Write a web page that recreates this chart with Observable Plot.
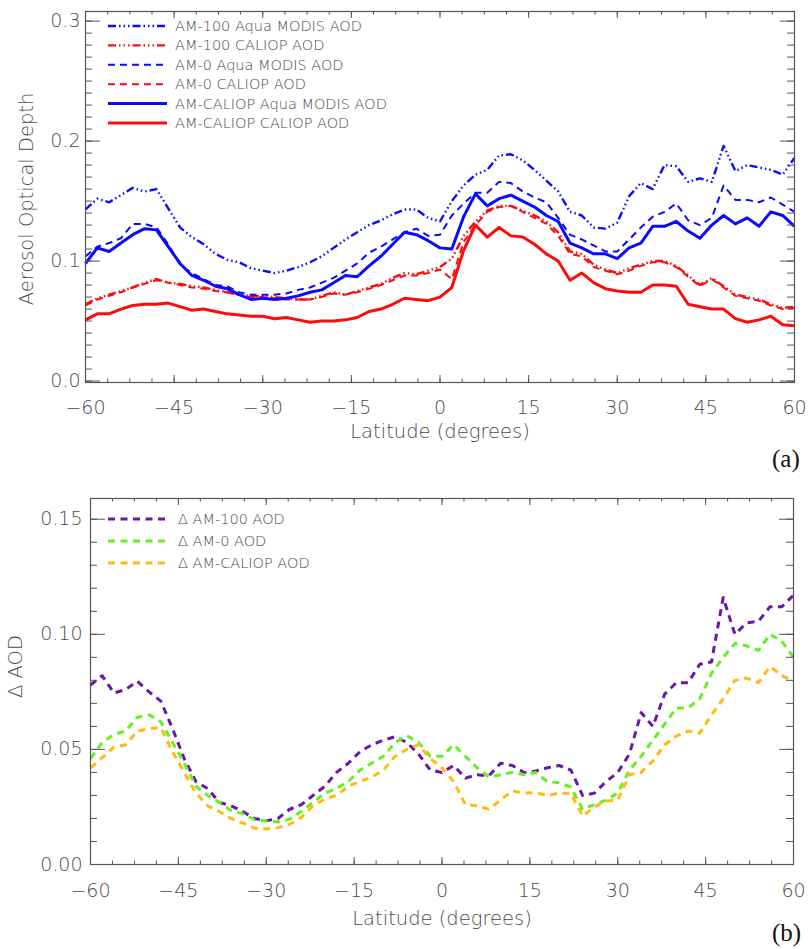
<!DOCTYPE html>
<html><head><meta charset="utf-8">
<script src="https://cdn.jsdelivr.net/npm/d3@7"></script>
<script src="https://cdn.jsdelivr.net/npm/@observablehq/plot@0.6"></script>
<style>
body{margin:0;background:#fff}
#wrap{position:relative;width:810px;height:949px;overflow:hidden;background:#fff}
</style></head>
<body><div id="wrap"></div>
<script>
// ---------- DATA ----------
const lat = [-60,-58,-56,-54,-52,-50,-48,-46,-44,-42,-40,-38,-36,-34,-32,-30,-28,-26,-24,-22,-20,-18,-16,-14,-12,-10,-8,-6,-4,-2,0,2,4,6,8,10,12,14,16,18,20,22,24,26,28,30,32,34,36,38,40,42,44,46,48,50,52,54,56,58,60];

// panel (a)
const am100Modis = [0.143,0.152,0.149,0.155,0.161,0.158,0.160,0.144,0.128,0.120,
0.114,0.106,0.101,0.099,0.094,0.092,0.090,0.092,0.095,0.099,
0.104,0.111,0.118,0.124,0.130,0.134,0.139,0.143,0.143,0.136,
0.133,0.150,0.163,0.172,0.176,0.188,0.189,0.184,0.176,0.167,
0.158,0.141,0.138,0.128,0.127,0.132,0.154,0.165,0.160,0.180,
0.179,0.166,0.169,0.166,0.196,0.175,0.180,0.178,0.176,0.172,
0.186];
const am100Caliop = [0.064,0.069,0.072,0.075,0.078,0.082,0.085,0.082,0.081,0.079,
0.078,0.076,0.074,0.072,0.071,0.071,0.070,0.069,0.068,0.068,
0.071,0.074,0.072,0.075,0.078,0.081,0.086,0.090,0.089,0.092,
0.095,0.102,0.121,0.133,0.142,0.146,0.146,0.142,0.138,0.133,
0.124,0.108,0.106,0.097,0.093,0.090,0.094,0.097,0.100,0.100,
0.096,0.088,0.080,0.086,0.079,0.072,0.070,0.068,0.064,0.061,
0.062];
const am0Modis = [0.104,0.112,0.115,0.119,0.131,0.131,0.128,0.114,0.097,0.090,
0.085,0.080,0.079,0.074,0.072,0.072,0.072,0.073,0.076,0.078,
0.082,0.086,0.092,0.098,0.107,0.112,0.118,0.124,0.127,0.121,
0.122,0.138,0.148,0.157,0.157,0.166,0.165,0.158,0.153,0.149,
0.136,0.122,0.118,0.113,0.108,0.108,0.118,0.128,0.137,0.141,
0.148,0.134,0.130,0.136,0.163,0.151,0.151,0.149,0.153,0.147,
0.141];
const am0Caliop = [0.063,0.068,0.071,0.074,0.078,0.081,0.084,0.082,0.080,0.078,
0.077,0.075,0.074,0.072,0.070,0.070,0.069,0.068,0.068,0.068,
0.070,0.073,0.072,0.074,0.077,0.080,0.084,0.088,0.088,0.090,
0.093,0.085,0.116,0.130,0.141,0.145,0.146,0.141,0.136,0.131,
0.121,0.106,0.104,0.095,0.092,0.089,0.092,0.096,0.099,0.099,
0.095,0.087,0.079,0.085,0.078,0.071,0.069,0.067,0.063,0.060,
0.061];
const amCalModis = [0.098,0.111,0.108,0.115,0.122,0.127,0.126,0.112,0.098,0.088,
0.084,0.079,0.077,0.072,0.068,0.069,0.068,0.069,0.071,0.074,
0.076,0.082,0.088,0.087,0.096,0.104,0.114,0.124,0.122,0.117,
0.111,0.110,0.137,0.156,0.146,0.152,0.155,0.150,0.145,0.138,
0.133,0.115,0.111,0.106,0.106,0.102,0.111,0.115,0.129,0.129,
0.133,0.125,0.119,0.130,0.138,0.131,0.136,0.129,0.141,0.138,
0.129];
const amCalCaliop = [0.051,0.056,0.056,0.060,0.063,0.064,0.064,0.065,0.062,0.059,
0.060,0.058,0.056,0.055,0.054,0.054,0.052,0.053,0.051,0.049,
0.050,0.050,0.051,0.053,0.058,0.060,0.064,0.069,0.068,0.067,
0.070,0.078,0.109,0.130,0.120,0.128,0.121,0.120,0.114,0.106,
0.100,0.084,0.090,0.082,0.077,0.075,0.074,0.074,0.080,0.080,
0.079,0.064,0.062,0.060,0.060,0.052,0.049,0.051,0.054,0.047,
0.046];

// panel (b)
const dAm100 = [0.078,0.082,0.0745,0.076,0.0796,0.075,0.071,0.059,0.046,0.036,
0.033,0.027,0.0255,0.023,0.020,0.019,0.020,0.024,0.026,0.030,
0.034,0.040,0.044,0.049,0.052,0.054,0.0555,0.053,0.048,0.041,
0.040,0.043,0.0375,0.039,0.0385,0.044,0.043,0.040,0.0406,0.042,
0.043,0.041,0.030,0.031,0.036,0.040,0.048,0.066,0.060,0.074,
0.079,0.079,0.087,0.088,0.116,0.100,0.105,0.1056,0.112,0.112,
0.117];
const dAm0 = [0.046,0.053,0.0565,0.058,0.064,0.065,0.062,0.053,0.044,0.034,
0.030,0.027,0.0235,0.022,0.0195,0.019,0.0185,0.0197,0.023,0.027,
0.031,0.033,0.036,0.041,0.044,0.047,0.053,0.056,0.053,0.047,
0.047,0.052,0.047,0.042,0.038,0.039,0.040,0.039,0.040,0.036,
0.0355,0.0336,0.024,0.026,0.028,0.031,0.041,0.047,0.054,0.061,
0.068,0.068,0.072,0.083,0.090,0.096,0.095,0.093,0.100,0.097,
0.090];
const dAmCal = [0.042,0.0464,0.051,0.052,0.058,0.059,0.0595,0.049,0.040,0.031,
0.0255,0.023,0.020,0.018,0.0158,0.0154,0.016,0.0175,0.0205,0.0255,
0.0285,0.030,0.034,0.036,0.038,0.041,0.047,0.050,0.052,0.046,
0.042,0.036,0.026,0.0255,0.024,0.028,0.032,0.031,0.0312,0.030,
0.031,0.031,0.021,0.025,0.0276,0.028,0.039,0.040,0.045,0.052,
0.0558,0.058,0.057,0.065,0.072,0.080,0.081,0.079,0.086,0.082,
0.080];

// ticks
const xMajor = [-60,-45,-30,-15,0,15,30,45,60];
const xMinor = d3.range(-60, 60.001, 3.75);
const yMajorA = [0, 0.1, 0.2, 0.3];
const yMinorA = d3.range(0, 0.3001, 0.01);
const yMajorB = [0, 0.05, 0.10, 0.15];
const yMinorB = d3.range(0, 0.1501, 0.01);

const namesA = ["AM-100 Aqua MODIS AOD","AM-100 CALIOP AOD","AM-0 Aqua MODIS AOD","AM-0 CALIOP AOD","AM-CALIOP Aqua MODIS AOD","AM-CALIOP CALIOP AOD"];
const namesB = ["\u0394 AM-100 AOD","\u0394 AM-0 AOD","\u0394 AM-CALIOP AOD"];

// ---------- STYLES ----------
const BLUE = "#0a0aff", RED = "#ff0a0a";
const DDD = "8,3,1.5,3,1.5,3,1.5,3";
const seriesA = [
  {name: namesA[0], values: am100Modis, color: BLUE, w: 2.4, dash: DDD},
  {name: namesA[1], values: am100Caliop, color: RED, w: 2.4, dash: DDD},
  {name: namesA[2], values: am0Modis, color: BLUE, w: 2, dash: "7,5"},
  {name: namesA[3], values: am0Caliop, color: RED, w: 2, dash: "7,5"},
  {name: namesA[4], values: amCalModis, color: BLUE, w: 3, dash: null},
  {name: namesA[5], values: amCalCaliop, color: RED, w: 3, dash: null}
];
const seriesB = [
  {name: namesB[0], values: dAm100, color: "#6a17a8", w: 3, dash: "7,5.5"},
  {name: namesB[1], values: dAm0, color: "#66f022", w: 3, dash: "7,5.5"},
  {name: namesB[2], values: dAmCal, color: "#ffbb11", w: 3, dash: "7,5.5"}
];

const wrap = document.getElementById("wrap");
const AXC = "#555";
const FONT = "DejaVu Sans, Verdana, sans-serif";
const minusFmt = d => (d < 0 ? "\u2212" + Math.abs(d) : String(d));

function panel(o) {
  const innerH = o.height - o.mt - o.mb;
  const innerW = 810 - o.ml - o.mr;
  const marks = [];
  for (const s of o.series) {
    marks.push(Plot.line(lat.map((x, i) => ({lat: x, v: s.values[i]})), {
      x: "lat", y: "v", stroke: s.color, strokeWidth: s.w,
      strokeDasharray: s.dash, strokeLinejoin: "round", strokeLinecap: "butt"
    }));
  }
  // ticks (inward) on all four sides
  marks.push(Plot.tickX(xMinor, {x: d => d, insetTop: innerH - 3.5, stroke: AXC}));
  marks.push(Plot.tickX(xMinor, {x: d => d, insetBottom: innerH - 3.5, stroke: AXC}));
  marks.push(Plot.tickX(xMajor, {x: d => d, insetTop: innerH - 7, stroke: AXC}));
  marks.push(Plot.tickX(xMajor, {x: d => d, insetBottom: innerH - 7, stroke: AXC}));
  marks.push(Plot.tickY(o.yMinor, {y: d => d, insetRight: innerW - 7, stroke: AXC}));
  marks.push(Plot.tickY(o.yMinor, {y: d => d, insetLeft: innerW - 7, stroke: AXC}));
  marks.push(Plot.tickY(o.yMajor, {y: d => d, insetRight: innerW - 15, stroke: AXC}));
  marks.push(Plot.tickY(o.yMajor, {y: d => d, insetLeft: innerW - 14, stroke: AXC}));
  marks.push(Plot.frame({stroke: AXC, strokeWidth: 1.2}));
  marks.push(Plot.axisX({ticks: xMajor, tickSize: 0, tickPadding: o.xPad, tickFormat: minusFmt, label: null}));
  marks.push(Plot.axisY({ticks: o.yMajor, tickSize: 0, tickPadding: o.yPad, tickFormat: o.yFmt, label: null}));
  marks.push(Plot.text(["Latitude (degrees)"], {text: d => d, frameAnchor: "bottom", dy: o.xTitleDy, fontSize: 19.5, lineAnchor: "middle"}));
  marks.push(Plot.text([o.yTitle], {text: d => d, frameAnchor: "left", rotate: -90, dx: o.yTitleDx, dy: o.yTitleDy, fontSize: 19.5, lineAnchor: "middle", textAnchor: "middle"}));
  const svg = Plot.plot({
    width: 810, height: o.height,
    marginTop: o.mt, marginBottom: o.mb, marginLeft: o.ml, marginRight: o.mr,
    x: {domain: [-60, 60], axis: null},
    y: {domain: o.yDomain, axis: null},
    style: {fontFamily: FONT, fontSize: "19px", color: "#4a4a4a", background: "transparent", overflow: "visible", fontWeight: "300"},
    marks
  });
  svg.style.position = "absolute";
  svg.style.left = "0px";
  svg.style.top = o.top + "px";
  wrap.appendChild(svg);
}

panel({
  series: seriesA, yDomain: [-0.0012, 0.308], yMajor: yMajorA, yMinor: yMinorA,
  yFmt: d => d.toFixed(1), top: 0, height: 440, mt: 11, mb: 58, ml: 85, mr: 16,
  yTitle: "Aerosol Optical Depth", yTitleDx: -59, yTitleDy: 2, xPad: 18, yPad: 5, xTitleDy: 49
});
panel({
  series: seriesB, yDomain: [0, 0.159], yMajor: yMajorB, yMinor: yMinorB,
  yFmt: d => d.toFixed(2), top: 470, height: 440, mt: 28, mb: 46, ml: 90, mr: 17,
  yTitle: "\u0394 AOD", yTitleDx: -75, yTitleDy: -15, xPad: 19, yPad: 8, xTitleDy: 54
});

// ---------- LEGENDS & PANEL TAGS ----------
const ov = d3.select(wrap).append("svg")
  .attr("width", 810).attr("height", 949)
  .style("position", "absolute").style("left", "0px").style("top", "0px")
  .style("pointer-events", "none");

function legend(series, x1, x2, tx, y0, dy) {
  series.forEach((s, i) => {
    const y = y0 + i * dy;
    ov.append("line").attr("x1", x1).attr("x2", x2).attr("y1", y).attr("y2", y)
      .attr("stroke", s.color).attr("stroke-width", s.w)
      .attr("stroke-dasharray", s.dash);
    ov.append("text").attr("x", tx).attr("y", y).attr("dy", "0.35em")
      .attr("font-family", FONT).attr("font-size", 14.5).attr("font-weight", 300)
      .attr("fill", "#4a4a4a").text(s.name);
  });
}
legend(seriesA, 108, 167, 175, 26, 19.4);
legend(seriesB, 108, 165, 178, 519, 22);

ov.append("text").attr("x", 772).attr("y", 467)
  .attr("font-family", "Liberation Serif, DejaVu Serif, serif").attr("font-size", 25)
  .attr("fill", "#111").text("(a)");
ov.append("text").attr("x", 772).attr("y", 941)
  .attr("font-family", "Liberation Serif, DejaVu Serif, serif").attr("font-size", 25)
  .attr("fill", "#111").text("(b)");
</script>
</body></html>
